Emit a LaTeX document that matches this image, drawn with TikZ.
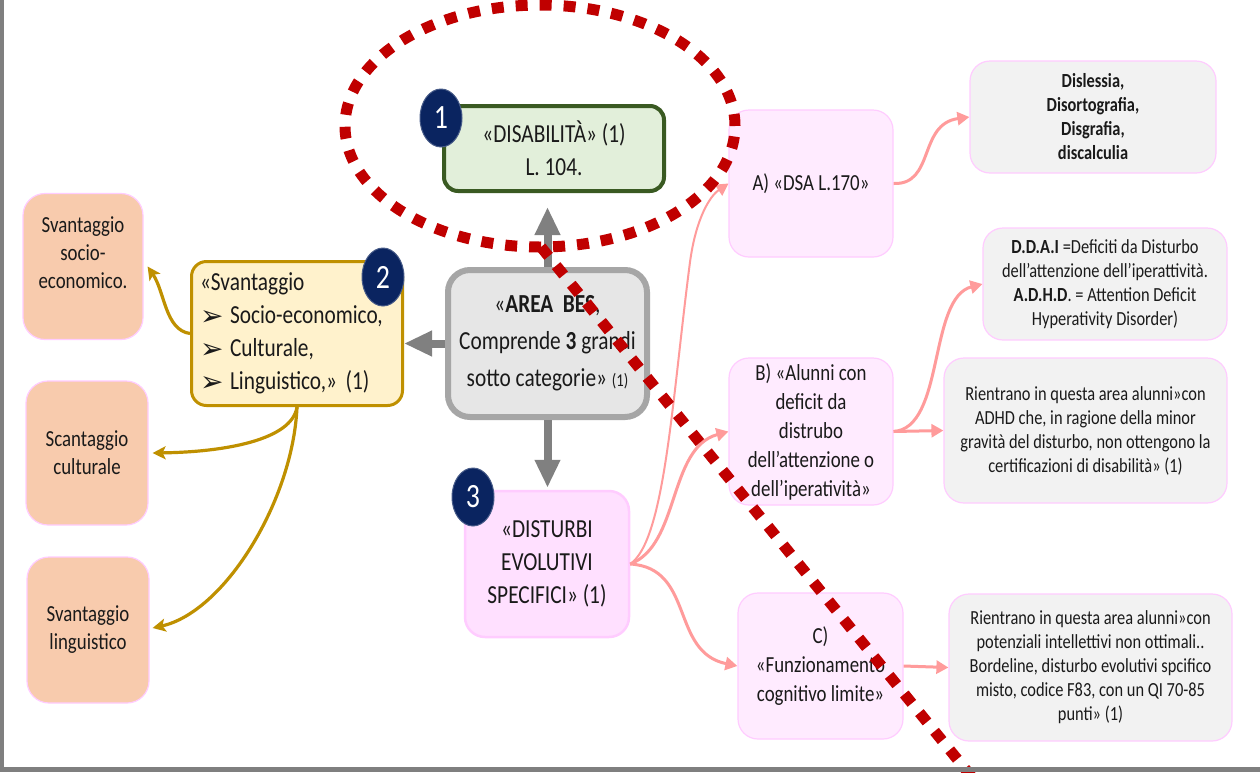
\documentclass[tikz,border=0pt]{standalone}
\usepackage{fontspec}
\setmainfont{Carlito}[FakeStretch=0.82]
\newfontfamily\symfont{DejaVu Sans}
\usetikzlibrary{arrows.meta,shapes.geometric}

\definecolor{txt}{HTML}{1A1A1A}
\definecolor{grfill}{HTML}{E2EFDA}
\definecolor{grline}{HTML}{3A5A22}
\definecolor{navy}{HTML}{0A2460}
\definecolor{pkfill}{HTML}{FFEBFF}
\definecolor{pkfill2}{HTML}{FFE0FF}
\definecolor{pkline}{HTML}{FFCCFF}
\definecolor{gyfill}{HTML}{F2F2F2}
\definecolor{besfill}{HTML}{E6E6E6}
\definecolor{besline}{HTML}{A6A6A6}
\definecolor{yefill}{HTML}{FFF2CC}
\definecolor{gold}{HTML}{BF9000}
\definecolor{peach}{HTML}{F8CBAD}
\definecolor{salmon}{HTML}{FF9B9B}
\definecolor{arrgray}{HTML}{808080}
\definecolor{dred}{HTML}{C00000}
\definecolor{frame}{HTML}{7F7F7F}

\newcommand\sizeBig{\fontsize{26}{33}\selectfont}
\newcommand\sizeMid{\fontsize{23}{29}\selectfont}
\newcommand\sizePeach{\fontsize{23}{28}\selectfont}
\newcommand\sizeSmall{\fontsize{20}{24}\selectfont}
\newcommand\bul{\makebox[30pt][l]{\raisebox{-2pt}{\symfont\fontsize{28}{28}\selectfont ➢}}}

\tikzset{
  base/.style={draw, align=center, inner sep=0pt, text=txt},
  greenbox/.style={base, fill=grfill, draw=grline, line width=4pt, rounded corners=14pt,
    minimum width=220pt, minimum height=85pt, font=\sizeBig},
  pinkbox/.style={base, fill=pkfill, draw=pkline, line width=1.2pt, rounded corners=20pt,
    minimum width=164pt, minimum height=146pt, font=\sizeMid},
  devbox/.style={base, fill=pkfill2, draw=pkline, line width=2.5pt, rounded corners=20pt,
    minimum width=164pt, minimum height=146pt, font=\sizeBig},
  graybox/.style={base, fill=gyfill, draw=pkline, line width=1.2pt, rounded corners=20pt, font=\sizeSmall},
  besbox/.style={base, fill=besfill, draw=besline, line width=6pt, rounded corners=22pt,
    minimum width=199pt, minimum height=147pt, font=\fontsize{26}{37}\selectfont},
  svbox/.style={base, fill=yefill, draw=gold, line width=3pt, rounded corners=15pt,
    minimum width=211pt, minimum height=144pt, text width=194pt, align=left,
    inner xsep=8.5pt, font=\sizeBig},
  peachbox/.style={base, fill=peach, draw=pkline, line width=1.2pt, rounded corners=22pt,
    minimum width=120pt, minimum height=146pt, font=\sizePeach},
  peachtext/.style={align=center, inner sep=0pt, text=txt, font=\sizePeach},
  badge/.style={ellipse, fill=navy, draw=navy!75!white, line width=1pt, minimum width=42pt,
    minimum height=58pt, inner sep=0pt, text=white, font=\fontsize{34}{34}\selectfont},
  grayarrow/.style={draw=arrgray, line width=8pt, -{Triangle[width=24pt,length=28pt]}},
  goldarrow/.style={draw=gold, line width=3.2pt, -{Stealth[width=13pt,length=13pt,inset=3pt]}},
  pinkarrow/.style={draw=salmon, line width=3pt, -{Triangle[width=13pt,length=12pt]}},
  reddots/.style={draw=dred, line width=11pt, dash pattern=on 12pt off 12pt},
}

\begin{document}
\begin{tikzpicture}[x=1pt, y=-1pt]
\useasboundingbox (0,0) rectangle (1260,772);
\fill[white] (0,0) rectangle (1260,772);

% main categories
\node[greenbox] (dis) at (554,148.5) {«DISABILITÀ» (1)\\L. 104.};
\node[besbox] (bes) at (547.5,343.5)
  {«\textbf{AREA~~BES},\\Comprende \textbf{3} grandi\\sotto categorie» {\fontsize{18}{22}\selectfont(1)}};
\node[svbox] (svan) at (297,333.5)
  {«Svantaggio\\\bul Socio-economico,\\\bul Culturale,\\\bul Linguistico,» (1)};
\node[devbox] (dev) at (547,564) {«DISTURBI\\EVOLUTIVI\\SPECIFICI» (1)};

% disadvantage types
\node[peachbox] (pse) at (83,266.5) {};
\node[peachtext] at (83,253) {Svantaggio\\socio-\\economico.};
\node[peachbox, minimum width=122pt, minimum height=144pt] (pcu) at (87,453) {Scantaggio\\culturale};
\node[peachbox, minimum width=122pt] (pli) at (88,630) {Svantaggio\\linguistico};

% specific developmental disorders
\node[pinkbox, minimum height=147pt] (dsa) at (811,183.5) {A) «DSA L.170»};
\node[pinkbox, minimum height=147pt] (bnode) at (811,431.5)
  {B) «Alunni con\\deficit da\\distrubo\\dell’attenzione o\\dell’iperatività»};
\node[pinkbox, minimum width=165pt] (cnode) at (820.5,666) {C)\\«Funzionamento\\cognitivo limite»};

% details
\node[graybox, minimum width=246pt, minimum height=112pt, font=\sizeSmall\bfseries] (dsl) at (1093,117)
  {Dislessia,\\Disortografia,\\Disgrafia,\\discalculia};
\node[graybox, minimum width=244pt, minimum height=112pt] (ddai) at (1105,284)
  {\textbf{D.D.A.I} =Deficiti da Disturbo\\dell’attenzione dell’iperattività.\\\textbf{A.D.H.D}. = Attention Deficit\\Hyperativity Disorder)};
\node[graybox, minimum width=283pt, minimum height=145pt] (adhd) at (1085.5,430.5)
  {Rientrano in questa area alunni»con\\ADHD che, in ragione della minor\\gravità del disturbo, non ottengono la\\certificazioni di disabilità» (1)};
\node[graybox, minimum width=283pt, minimum height=147pt] (bord) at (1090.5,667.5)
  {Rientrano in questa area alunni»con\\potenziali intellettivi non ottimali..\\Bordeline, disturbo evolutivi spcifico\\misto, codice F83, con un QI 70-85\\punti» (1)};

% connectors from the central node
\draw[grayarrow, shorten >=14pt] (bes.north) -- (bes.north |- dis.south);
\draw[grayarrow] (bes.west) -- (bes.west -| svan.east);
\draw[grayarrow, shorten >=2pt] (bes.south) -- (bes.south |- dev.north);

% disadvantage branches
\draw[goldarrow] (svan.west) .. controls (165,330) and (165,292) .. ([xshift=4pt]pse.east);
\draw[goldarrow] (svan.south) .. controls (292,440) and (225,452) .. ([xshift=4pt]pcu.east);
\draw[goldarrow] (svan.south) .. controls (293,500) and (225,612) .. ([xshift=3pt,yshift=2pt]pli.east);

% disorder branches
\draw[pinkarrow, line width=2pt] (dev.east) .. controls (665,540) and (672,400) .. (690,262)
  .. controls (696,218) and (710,196) .. (dsa.west);
\draw[pinkarrow] (dev.east) .. controls (680,545) and (668,448) .. (bnode.west);
\draw[pinkarrow] (dev.east) .. controls (695,568) and (670,652) .. (cnode.west);
\draw[pinkarrow] (dsa.east) .. controls (935,185) and (918,124) .. (dsl.west);
\draw[pinkarrow] (bnode.east) .. controls (945,428) and (928,298) .. (ddai.west);
\draw[pinkarrow] (bnode.east) -- (adhd.west);
\draw[pinkarrow] (cnode.east) -- (bord.west);

% numbered badges
\node[badge] (b1) at (441,118) {1};
\node[badge] (b2) at (383,277) {2};
\node[badge] (b3) at (473,497) {3};

% red dotted highlight
\draw[reddots] (540,126) ellipse [x radius=195pt, y radius=121pt];
\coordinate (d0) at (541,247);
\coordinate (d1) at (975,781);
\draw[reddots] (d0) -- (d1);

% page frame
\fill[frame] (0,0) rectangle (4,772);
\fill[frame] (0,767) rectangle (1260,772);
\end{tikzpicture}
\end{document}
